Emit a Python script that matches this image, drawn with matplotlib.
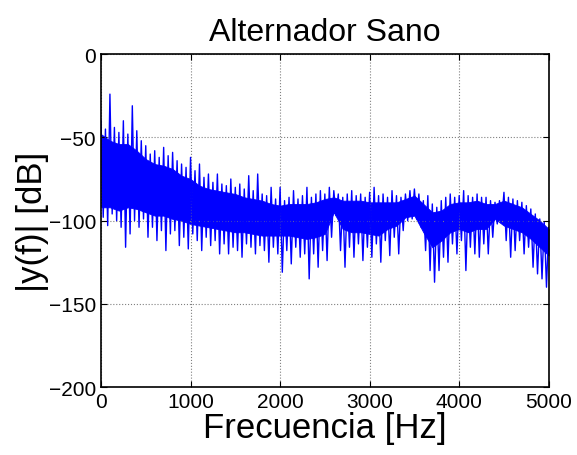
import numpy as np
import matplotlib
matplotlib.use("Agg")
import matplotlib.pyplot as plt

plt.rcParams['font.family'] = ['Liberation Sans', 'DejaVu Sans']

# Dense core of the spectrum (read at 100 Hz steps)
core_f = [0, 100, 200, 300, 400, 500, 600, 700, 800, 900,
          1000, 1100, 1200, 1300, 1400, 1500, 1600, 1700, 1800, 1900,
          2000, 2100, 2200, 2300, 2400, 2500, 2600, 2700, 2800, 2900,
          3000, 3100, 3200, 3300, 3400, 3500, 3600, 3700, 3800, 3900,
          4000, 4100, 4200, 4300, 4400, 4500, 4600, 4700, 4800, 4900, 5000]
core_top_db = [-48, -52, -54, -54, -58, -63, -66, -67, -69, -73,
               -75, -79, -81, -82, -83, -84, -86, -87, -88, -90,
               -91, -90, -90, -90, -89, -87, -86, -88, -88, -88,
               -89, -89, -89, -89, -87, -85, -90, -95, -94, -90,
               -89, -89, -88, -90, -90, -88, -90, -92, -96, -100, -105]
core_bot_db = [-92, -92, -94, -92, -93, -95, -97, -97, -99, -100,
               -102, -103, -104, -105, -106, -107, -107, -108, -109, -109,
               -109, -109, -110, -111, -110, -108, -95, -105, -107, -107,
               -108, -109, -105, -103, -98, -97, -107, -116, -112, -107,
               -105, -107, -105, -105, -99, -103, -105, -107, -111, -116, -121]

# Envelope of the noisy trace (peaks and dips read at 50 Hz steps)
env_f = [0, 50, 100, 150, 200, 250, 300, 350, 400, 450,
         500, 550, 600, 650, 700, 750, 800, 850, 900, 950,
         1000, 1050, 1100, 1150, 1200, 1250, 1300, 1350, 1400, 1450,
         1500, 1550, 1600, 1650, 1700, 1750, 1800, 1850, 1900, 1950,
         2000, 2050, 2100, 2150, 2200, 2250, 2300, 2350, 2400, 2450,
         2500, 2550, 2600, 2650, 2700, 2750, 2800, 2850, 2900, 2950,
         3000, 3050, 3100, 3150, 3200, 3250, 3300, 3350, 3400, 3450,
         3500, 3550, 3600, 3650, 3700, 3750, 3800, 3850, 3900, 3950,
         4000, 4050, 4100, 4150, 4200, 4250, 4300, 4350, 4400, 4450,
         4500, 4550, 4600, 4650, 4700, 4750, 4800, 4850, 4900, 4950, 5000]
peak_db = [-40, -45, -24, -44, -47, -40, -48, -31, -46, -52,
           -55, -60, -58, -62, -56, -61, -59, -64, -66, -68,
           -62, -70, -66, -74, -72, -77, -72, -78, -79, -75,
           -80, -78, -81, -73, -82, -72, -84, -85, -80, -87,
           -80, -88, -86, -82, -87, -85, -80, -86, -84, -82,
           -84, -80, -82, -84, -86, -84, -82, -85, -84, -86,
           -83, -80, -85, -84, -86, -82, -85, -86, -84, -82,
           -81, -84, -88, -85, -90, -92, -88, -86, -84, -86,
           -85, -82, -85, -86, -84, -86, -86, -88, -89, -88,
           -83, -86, -87, -88, -89, -91, -93, -96, -99, -101, -104]
dip_db = [-98, -103, -96, -100, -104, -116, -108, -100, -104, -99,
          -110, -104, -112, -106, -118, -108, -106, -115, -110, -117,
          -108, -112, -118, -110, -115, -112, -120, -114, -120, -116,
          -118, -122, -114, -116, -120, -115, -118, -125, -116, -120,
          -131, -118, -126, -116, -122, -120, -135, -120, -128, -118,
          -124, -110, -97, -118, -128, -116, -122, -114, -124, -116,
          -122, -114, -125, -112, -121, -110, -120, -106, -100, -99,
          -99, -104, -118, -130, -137, -130, -122, -125, -114, -120,
          -112, -130, -116, -120, -122, -114, -120, -110, -102, -100,
          -112, -122, -118, -112, -120, -116, -128, -132, -135, -140, -142]

fig = plt.figure(figsize=(5.77, 4.56), dpi=100)
ax = fig.add_axes([0.175, 0.149, 0.776, 0.730])

blue = (0, 0, 1)
ax.fill_between(core_f, core_bot_db, core_top_db, color=blue, linewidth=0.6)

# zig-zag trace alternating between peaks and dips
env_f = np.asarray(env_f, dtype=float)
zx = np.empty(2 * len(env_f))
zy = np.empty(2 * len(env_f))
zx[0::2] = env_f
zx[1::2] = env_f + 25
zy[0::2] = peak_db
zy[1::2] = dip_db
keep = zx <= 5000
ax.plot(zx[keep], zy[keep], color=blue, linewidth=1.0)

ax.set_xlim(0, 5000)
ax.set_ylim(-200, 0)
ax.set_xticks([0, 1000, 2000, 3000, 4000, 5000])
ax.set_yticks([-200, -150, -100, -50, 0])
ax.grid(True, linestyle=':', color='#808080', linewidth=0.8)
ax.tick_params(direction='in', top=True, right=True, labelsize=15, length=4)
for s in ax.spines.values():
    s.set_linewidth(1.2)
ax.set_title('Alternador Sano', fontsize=23, pad=10)
ax.set_xlabel('Frecuencia [Hz]', fontsize=25, labelpad=0)
ax.set_ylabel('|y(f)| [dB]', fontsize=25, labelpad=0)

fig.savefig('out.png', dpi=100)
